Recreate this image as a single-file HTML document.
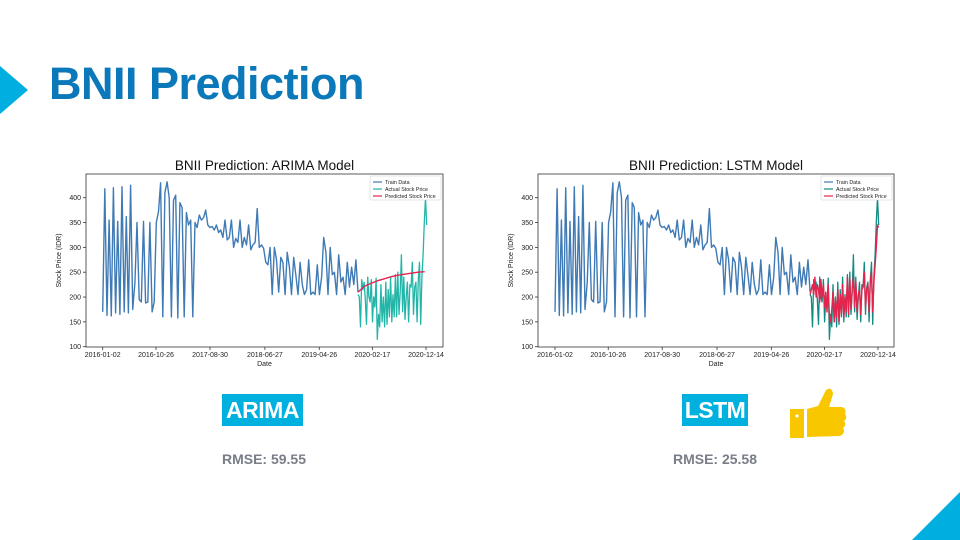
<!DOCTYPE html>
<html><head><meta charset="utf-8">
<style>
html,body{margin:0;padding:0;background:#fff;}
#root{position:relative;width:960px;height:540px;overflow:hidden;font-family:"Liberation Sans",sans-serif;}
.tag{position:absolute;background:#00b1df;color:#fff;font-weight:bold;font-size:23px;line-height:32px;text-align:center;letter-spacing:-0.5px;}
.rmse{position:absolute;color:#787d88;font-weight:bold;font-size:14px;text-align:center;width:120px;}
</style></head>
<body>
<div id="root">
<svg width="960" height="540" style="position:absolute;left:0;top:0">
<polygon points="0,66 28,90 0,114" fill="#00aee0"/>
<polygon points="960,492 960,540 912,540" fill="#00aee0"/>
<g fill="#f8c700">
<rect x="790" y="409" width="14" height="29"/>
<circle cx="797" cy="416" r="1.6" fill="#fff"/>
<path d="M807,409 L818,406 L826,390 Q832,386 833,394 L829,407 L842,407 Q847,409 845,414 Q848,418 844,421 Q847,425 843,428 Q846,433 840,436 L807,437 Z"/>
</g>
</svg>
<div style="position:absolute;left:49px;top:58px;font-size:45px;font-weight:bold;color:#0a78b9;letter-spacing:-0.5px">BNII Prediction</div>
<svg id="c1" width="960" height="540" style="position:absolute;left:0;top:0"></svg>
<svg id="c2" width="960" height="540" style="position:absolute;left:0;top:0"></svg>
<div class="tag" style="left:222px;top:394px;width:81px;height:32px">ARIMA</div>
<div class="rmse" style="left:204px;top:451px">RMSE: 59.55</div>
<div class="tag" style="left:682px;top:394px;width:66px;height:32px">LSTM</div>
<div class="rmse" style="left:655px;top:451px">RMSE: 25.58</div>
</div>
<script>
const trainValues=[170,418,163,355,162,420,168,352,165,422,170,362,168,425,175,228,350,195,190,352,
188,190,350,170,190,350,372,430,160,410,432,400,160,395,405,158,390,380,160,370,
345,355,160,350,340,365,355,360,375,345,340,342,335,345,330,335,320,355,315,320,
355,300,318,310,355,300,320,305,345,295,305,310,378,300,305,298,270,265,300,205,
300,275,210,280,270,205,290,260,205,280,245,205,270,225,205,215,275,205,210,205,
265,205,240,320,290,205,300,245,250,205,285,230,240,205,270,220,260,225,275,210];
const testValues=[205,200,140,235,215,230,195,145,240,200,190,235,150,200,180,238,115,165,140,225,
150,200,140,230,145,215,160,240,150,205,160,245,160,250,165,210,285,170,240,155,
200,230,150,225,220,270,165,220,230,150,235,270,145,240,285,350,400,345];
const arimaPred=[210,222,228,233,237,241,244,246,248,250,251];
const lstmPred=[205,215,225,205,240,200,225,215,190,235,200,225,180,210,170,225,160,150,175,210,
150,195,160,215,150,205,165,225,160,200,170,240,165,235,175,215,240,180,230,170,
205,215,165,215,220,250,180,215,225,170,230,250,170,230,265,300,345,340];
const yTicks=[100,150,200,250,300,350,400];
const xTickLabels=["2016-01-02","2016-10-26","2017-08-30","2018-06-27","2019-04-26","2020-02-17","2020-12-14"];
const xTickDays=[0,298,600,907,1211,1508,1808];
const trainStartDay=0, trainEndDay=1428, testEndDay=1812;

const NS="http://www.w3.org/2000/svg";
function mk(p,tag,attrs){const e=document.createElementNS(NS,tag);for(const k in attrs)e.setAttribute(k,attrs[k]);p.appendChild(e);return e;}
function drawChart(svg,cfg){
  const L=cfg.left,R=cfg.right,T=174,B=347;
  const x=d=>cfg.x0+(cfg.x1-cfg.x0)*d/1808;
  const y=v=>346.7-(v-100)*(149/300);
  const t=mk(svg,'text',{x:(L+R)/2,y:170,'text-anchor':'middle','font-size':'13.5','fill':'#111'});
  t.textContent=cfg.title;
  const line=(vals,d0,d1,col,w,name)=>{
    const st=(d1-d0)/(vals.length-1);
    const pts=vals.map((v,i)=>x(d0+i*st).toFixed(1)+','+y(v).toFixed(1)).join(' ');
    const p=mk(svg,'polyline',{points:pts,fill:'none',stroke:col,'stroke-width':w,'stroke-linejoin':'round'});
    
  };
  line(trainValues,trainStartDay,trainEndDay,'#3f7ab5',1.4,'train-data-line');
  line(testValues,trainEndDay,testEndDay,cfg.actualColor,1.3,'actual-price-line');
  line(cfg.pred,trainEndDay,cfg.predEnd,'#e5234c',1.4,'predicted-price-line');
  const fr=mk(svg,'rect',{x:L,y:T,width:R-L,height:B-T,fill:'none',stroke:'#333','stroke-width':0.8});
  
  yTicks.forEach(v=>{
    mk(svg,'line',{x1:L-3,x2:L,y1:y(v),y2:y(v),stroke:'#333','stroke-width':0.8});
    const tt=mk(svg,'text',{x:L-5,y:y(v)+2.5,'text-anchor':'end','font-size':'7','fill':'#222'});
    tt.textContent=v;
  });
  xTickDays.forEach((d,i)=>{
    mk(svg,'line',{x1:x(d),x2:x(d),y1:B,y2:B+3,stroke:'#333','stroke-width':0.8});
    const tt=mk(svg,'text',{x:x(d),y:B+10,'text-anchor':'middle','font-size':'7','fill':'#222'});
    tt.textContent=xTickLabels[i];
  });
  const xt=mk(svg,'text',{x:(L+R)/2,y:B+19,'text-anchor':'middle','font-size':'7','fill':'#222'});
  xt.textContent='Date';
  const yt=mk(svg,'text',{x:0,y:0,'text-anchor':'middle','font-size':'7','fill':'#222',transform:`translate(${L-25},${(T+B)/2}) rotate(-90)`});
  yt.textContent='Stock Price (IDR)';
  const lg=mk(svg,'g',{});
  
  const lx=R-73;
  mk(lg,'rect',{x:lx,y:T+2,width:71,height:24,fill:'#fff',stroke:'#ccc','stroke-width':0.5,rx:1});
  [['Train Data','#3f7ab5'],['Actual Stock Price',cfg.actualColor],['Predicted Stock Price','#e5234c']].forEach((e,i)=>{
    const yy=T+8+i*7;
    mk(lg,'line',{x1:lx+3,x2:lx+12,y1:yy,y2:yy,stroke:e[1],'stroke-width':1.2});
    const tx=mk(lg,'text',{x:lx+15,y:yy+2,'font-size':'5.3','fill':'#222'});
    tx.textContent=e[0];
  });
}
drawChart(document.getElementById('c1'),{left:86,right:443,x0:102.7,x1:426,title:'BNII Prediction: ARIMA Model',actualColor:'#22b5a8',pred:arimaPred,predEnd:1800});
drawChart(document.getElementById('c2'),{left:538,right:894,x0:555,x1:878,title:'BNII Prediction: LSTM Model',actualColor:'#108a82',pred:lstmPred,predEnd:testEndDay});
</script>
</body></html>
